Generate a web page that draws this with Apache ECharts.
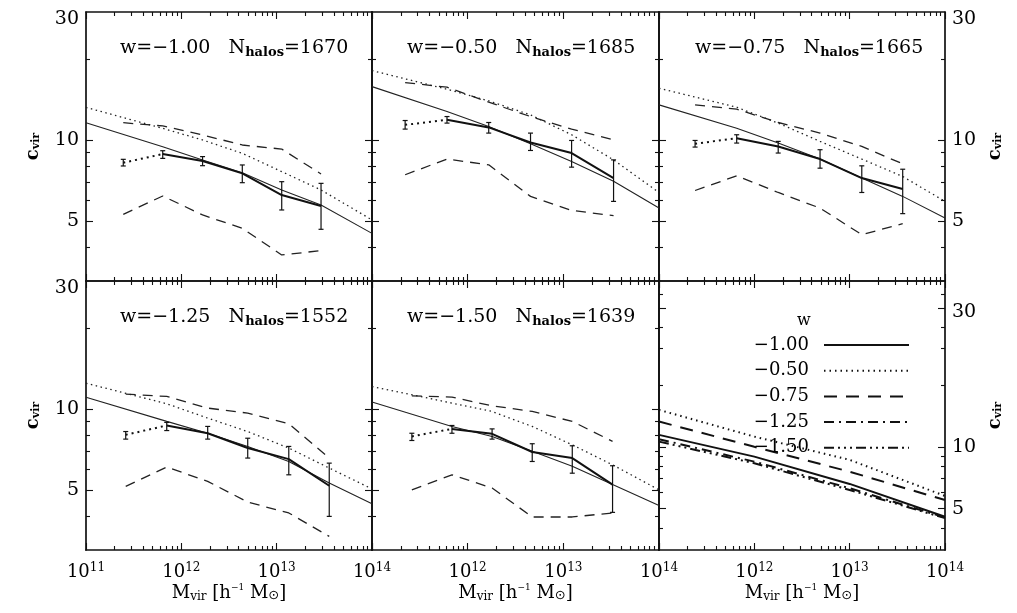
<!DOCTYPE html>
<html><head><meta charset="utf-8">
<script src="https://cdn.jsdelivr.net/npm/echarts@6/dist/echarts.min.js"></script>
<style>html,body{margin:0;padding:0;background:#fff;}#c{width:1017px;height:613px;}</style>
</head><body><div id="c"></div>
<script>
// ---------------- data ----------------
const panelW = ['−1.00', '−0.50', '−0.75', '−1.25', '−1.50'];
const panelN = [1670, 1685, 1665, 1552, 1639];

// mass bins (h^-1 Msun) per panel
const binMass = [
  [2.46e11, 6.38e11, 1.67e12, 4.36e12, 1.13e13, 2.92e13],
  [2.22e11, 6.08e11, 1.66e12, 4.54e12, 1.22e13, 3.35e13],
  [2.39e11, 6.53e11, 1.78e12, 4.89e12, 1.34e13, 3.60e13],
  [2.61e11, 7.03e11, 1.89e12, 4.97e12, 1.34e13, 3.56e13],
  [2.61e11, 6.85e11, 1.80e12, 4.73e12, 1.24e13, 3.27e13]
];
// model curves sampled at masses
const curveMass = [
  [1e11, 6.38e11, 1.67e12, 4.36e12, 1.13e13, 2.92e13, 1e14],
  [1e11, 6.08e11, 1.66e12, 4.54e12, 1.22e13, 3.35e13, 1e14],
  [1e11, 6.53e11, 1.78e12, 4.89e12, 1.34e13, 3.60e13, 1e14],
  [1e11, 7.03e11, 1.89e12, 4.97e12, 1.34e13, 3.56e13, 1e14],
  [1e11, 6.85e11, 1.80e12, 4.73e12, 1.24e13, 3.27e13, 1e14]
];
const fitSolid = [
  [11.63, 9.47, 8.45, 7.58, 6.54, 5.75, 4.51],
  [15.84, 12.80, 11.26, 9.71, 8.34, 7.04, 5.60],
  [13.55, 11.10, 9.77, 8.52, 7.24, 6.19, 5.14],
  [11.10, 9.02, 8.15, 7.28, 6.40, 5.32, 4.46],
  [10.64, 8.64, 7.93, 6.98, 6.14, 5.25, 4.39]
];
const fitDotted = [
  [13.26, 11.08, 10.03, 8.95, 7.65, 6.54, 5.06],
  [18.17, 15.49, 14.02, 12.44, 10.49, 8.46, 6.40],
  [15.62, 13.28, 11.59, 9.91, 8.52, 7.34, 5.93],
  [12.51, 10.49, 9.28, 8.27, 7.18, 6.05, 5.06],
  [12.16, 10.55, 9.82, 8.64, 7.38, 6.22, 5.02]
];
const upperDash = [
  [11.63, 11.31, 10.47, 9.61, 9.28, 7.50],
  [16.40, 15.76, 13.86, 12.26, 11.01, 10.05],
  [13.55, 13.06, 11.65, 10.64, 9.49, 8.18],
  [11.39, 11.17, 10.11, 9.68, 8.84, 6.59],
  [11.23, 11.10, 10.31, 9.82, 9.02, 7.60]
];
const lowerDash = [
  [5.31, 6.21, 5.28, 4.71, 3.75, 3.89],
  [7.45, 8.52, 8.11, 6.19, 5.49, 5.25],
  [6.51, 7.38, 6.40, 5.60, 4.46, 4.90],
  [5.17, 6.10, 5.40, 4.52, 4.12, 3.37],
  [5.02, 5.71, 5.10, 3.98, 3.98, 4.12]
];
const medianC = [
  [8.26, 8.89, 8.38, 7.54, 6.26, 5.70],
  [11.42, 11.92, 11.17, 9.82, 8.97, 7.24],
  [9.71, 10.19, 9.49, 8.52, 7.24, 6.59],
  [8.04, 8.71, 8.15, 7.18, 6.53, 5.20],
  [7.93, 8.46, 8.11, 6.94, 6.59, 5.25]
];
const errLo = [
  [8.03, 8.57, 8.05, 6.96, 5.51, 4.67],
  [11.01, 11.59, 10.64, 9.17, 7.95, 5.93],
  [9.44, 9.77, 8.97, 7.88, 6.40, 5.34],
  [7.75, 8.34, 7.75, 6.59, 5.71, 4.00],
  [7.66, 8.15, 7.75, 6.40, 5.79, 4.14]
];
const errHi = [
  [8.50, 9.15, 8.70, 8.10, 7.02, 6.92],
  [11.85, 12.26, 11.65, 10.64, 9.99, 8.46],
  [9.99, 10.49, 9.91, 9.23, 8.04, 7.81],
  [8.27, 8.94, 8.64, 7.81, 7.28, 6.31],
  [8.15, 8.71, 8.46, 7.45, 7.32, 6.17]
];

// last panel: model comparison
const modelNames = ['−1.00', '−0.50', '−0.75', '−1.25', '−1.50'];
const modelMass = [1e11, 1e12, 1e13, 1e14];
const modelC = [
  [11.43, 8.96, 6.60, 4.57],
  [15.12, 11.21, 8.64, 5.77],
  [13.27, 10.00, 7.57, 5.51],
  [10.89, 8.47, 6.29, 4.53],
  [10.60, 8.32, 6.17, 4.50]
];

// ticks
const xMajorTicks = [1e11, 1e12, 1e13, 1e14];
const xMinorTicks = [2e11,3e11,4e11,5e11,6e11,7e11,8e11,9e11,
                     2e12,3e12,4e12,5e12,6e12,7e12,8e12,9e12,
                     2e13,3e13,4e13,5e13,6e13,7e13,8e13,9e13];
const yMajorTicks = [5, 10];
const yMinorTicks = [4, 6, 7, 8, 9, 20];
const yLabelValues = [5, 10, 30];
const y6MajorTicks = [5, 10, 47];
const y6MinorTicks = [4, 6, 7, 8, 9, 20, 30, 38, 55];
const y6LabelValues = [5, 10, 47];
const y6LabelText = ['5', '10', '30'];

// ---------------- styling / layout ----------------
const SERIF = "'DejaVu Serif','Liberation Serif',serif";
const INK = '#111';
const colL = [86, 372, 659], colW = [286, 287, 286];
const rowT = [12, 281], rowH = 269;
const annPos = [[120, 38], [407, 38], [695, 38], [120, 307], [407, 307]];

const grids = [], xAxes = [], yAxes = [], series = [], titles = [];

function mkX(g, pos, ticks, len, line, labelVals, withName) {
  return {
    type: 'log', logBase: 10, gridIndex: g, position: pos, min: 1e11, max: 1e14,
    axisLine: {show: line, onZero: false, lineStyle: {color: INK, width: 1.7}},
    axisTick: {show: true, inside: true, length: len, customValues: ticks, lineStyle: {color: INK, width: 1.1}},
    axisLabel: labelVals ? {
      show: true, customValues: labelVals, margin: 12,
      formatter: v => '{b|10}{s|' + Math.round(Math.log10(v)) + '}',
      rich: {
        b: {fontFamily: SERIF, fontSize: 18, color: '#000'},
        s: {fontFamily: SERIF, fontSize: 12, color: '#000', padding: [0, 0, 9, 0]}
      }
    } : {show: false},
    splitLine: {show: false}, minorTick: {show: false}, minorSplitLine: {show: false},
    name: withName ? '{m|M}{s|vir}{m| [h}{u|−1}{m| M}{o|⊙}{m|]}' : '',
    nameLocation: 'middle', nameGap: 33,
    nameTextStyle: {rich: {
      m: {fontFamily: SERIF, fontSize: 18, color: '#000'},
      s: {fontFamily: SERIF, fontSize: 12, color: '#000', padding: [8, 0, 0, 0]},
      u: {fontFamily: SERIF, fontSize: 9, color: '#000', padding: [0, 0, 10, 0]},
      o: {fontFamily: "'DejaVu Sans',sans-serif", fontSize: 13, color: '#000', padding: [6, 0, 0, 0]}
    }}
  };
}
function mkY(g, pos, ticks, len, line, yMin, yMax, labelVals, labelText, withName, nameGap) {
  return {
    type: 'log', logBase: 10, gridIndex: g, position: pos, min: yMin, max: yMax,
    axisLine: {show: line, onZero: false, lineStyle: {color: INK, width: 1.7}},
    axisTick: {show: true, inside: true, length: len, customValues: ticks, lineStyle: {color: INK, width: 1.1}},
    axisLabel: labelVals ? {
      show: true, customValues: labelVals, margin: 7,
      formatter: v => {
        const i = labelVals.findIndex(t => Math.abs(t - v) < 1e-6 * t);
        const txt = labelText[i];
        if (txt === '30') return (g === 5 ? '{t2|' : '{t|') + txt + '}';
        return '{n|' + txt + '}';
      },
      rich: {
        n: {fontFamily: SERIF, fontSize: 19, color: '#000'},
        t: {fontFamily: SERIF, fontSize: 19, color: '#000', padding: [14, 0, 0, 0]},
        t2: {fontFamily: SERIF, fontSize: 19, color: '#000', padding: [6, 0, 0, 0]}
      }
    } : {show: false},
    splitLine: {show: false}, minorTick: {show: false}, minorSplitLine: {show: false},
    name: withName ? '{c|c}{v|vir}' : '',
    nameLocation: 'middle', nameRotate: 90, nameGap: nameGap || 40,
    nameTextStyle: {rich: {
      c: {fontFamily: SERIF, fontSize: 18, fontWeight: 'bold', color: '#000'},
      v: {fontFamily: SERIF, fontSize: 11, fontWeight: 'bold', color: '#000', padding: [7, 0, 0, 0]}
    }}
  };
}

for (let g = 0; g < 6; g++) {
  const row = g < 3 ? 0 : 1, col = g % 3;
  grids.push({left: colL[col], top: rowT[row], width: colW[col], height: rowH, show: false,
              containLabel: false, outerBoundsMode: 'none'});
  const bottomRow = row === 1;
  const xLab = bottomRow ? (col === 0 ? xMajorTicks : xMajorTicks.slice(1)) : null;
  xAxes.push(mkX(g, 'bottom', xMajorTicks, 7, true, xLab, bottomRow));
  xAxes.push(mkX(g, 'bottom', xMinorTicks, 4, false, null, false));
  xAxes.push(mkX(g, 'top', xMajorTicks, 7, true, null, false));
  xAxes.push(mkX(g, 'top', xMinorTicks, 4, false, null, false));
  const last = g === 5;
  const yMin = last ? 3.15 : 3, yMax = last ? 64 : 30;
  const maj = last ? y6MajorTicks : yMajorTicks, mnr = last ? y6MinorTicks : yMinorTicks;
  const leftLab = col === 0;
  const rightLab = col === 2;
  const lv = last ? y6LabelValues : yLabelValues;
  const lt = last ? y6LabelText : yLabelValues.map(String);
  yAxes.push(mkY(g, 'left', maj, 7, true, yMin, yMax, leftLab ? lv : null, lt, leftLab, 44));
  yAxes.push(mkY(g, 'left', mnr, 4, false, yMin, yMax, null, null, false));
  yAxes.push(mkY(g, 'right', maj, 7, true, yMin, yMax, rightLab ? lv : null, lt, rightLab, 41));
  yAxes.push(mkY(g, 'right', mnr, 4, false, yMin, yMax, null, null, false));
}

function errRender(params, api) {
  const x = api.value(0), lo = api.value(1), hi = api.value(2);
  const a = api.coord([x, lo]), b = api.coord([x, hi]);
  const c = 2.5, st = {stroke: INK, lineWidth: 1.2};
  return {type: 'group', children: [
    {type: 'line', shape: {x1: a[0], y1: a[1], x2: b[0], y2: b[1]}, style: st},
    {type: 'line', shape: {x1: a[0] - c, y1: a[1], x2: a[0] + c, y2: a[1]}, style: st},
    {type: 'line', shape: {x1: b[0] - c, y1: b[1], x2: b[0] + c, y2: b[1]}, style: st}
  ]};
}

const panelGrid = [0, 1, 2, 3, 4];
for (let p = 0; p < 5; p++) {
  const ax = {xAxisIndex: 4 * panelGrid[p], yAxisIndex: 4 * panelGrid[p]};
  const base = {type: 'line', symbol: 'none', silent: true, animation: false};
  series.push(Object.assign({}, base, ax, {name: 'fit' + p,
    data: curveMass[p].map((m, i) => [m, fitSolid[p][i]]),
    lineStyle: {color: '#222', width: 1.1}}));
  series.push(Object.assign({}, base, ax, {name: 'dot' + p,
    data: curveMass[p].map((m, i) => [m, fitDotted[p][i]]),
    lineStyle: {color: '#222', width: 1.3, type: [1.5, 3.5]}}));
  series.push(Object.assign({}, base, ax, {name: 'up' + p,
    data: binMass[p].map((m, i) => [m, upperDash[p][i]]),
    lineStyle: {color: '#222', width: 1.3, type: [10, 7]}}));
  series.push(Object.assign({}, base, ax, {name: 'lo' + p,
    data: binMass[p].map((m, i) => [m, lowerDash[p][i]]),
    lineStyle: {color: '#222', width: 1.3, type: [10, 7]}}));
  series.push(Object.assign({}, base, ax, {name: 'md0' + p,
    data: binMass[p].slice(0, 2).map((m, i) => [m, medianC[p][i]]),
    lineStyle: {color: INK, width: 2, type: [2, 4]}}));
  series.push(Object.assign({}, base, ax, {name: 'md' + p,
    data: binMass[p].slice(1).map((m, i) => [m, medianC[p][i + 1]]),
    lineStyle: {color: INK, width: 2}, z: 4}));
  series.push(Object.assign({}, ax, {type: 'custom', name: 'err' + p, silent: true, animation: false,
    renderItem: errRender, encode: {x: 0, y: [1, 2]}, z: 5,
    data: binMass[p].map((m, i) => [m, errLo[p][i], errHi[p][i]])}));
  titles.push({
    text: '{a|w=' + panelW[p] + '   N}{s|halos}{a|=' + panelN[p] + '}',
    left: annPos[p][0], top: annPos[p][1], padding: 0,
    textStyle: {fontWeight: 'normal', rich: {
      a: {fontFamily: SERIF, fontSize: 19, fontWeight: 'normal', color: '#000'},
      s: {fontFamily: SERIF, fontSize: 13, fontWeight: 'bold', color: '#000', padding: [8, 0, 0, 0]}
    }}
  });
}

const modelDash = ['solid', [1.5, 4], [13, 9], [10, 5, 2, 5], [10, 4, 2, 4, 2, 4, 2, 4]];
for (let k = 0; k < 5; k++) {
  series.push({type: 'line', name: modelNames[k], xAxisIndex: 20, yAxisIndex: 20,
    symbol: 'none', silent: true, animation: false,
    itemStyle: {color: INK},
    data: modelMass.map((m, i) => [m, modelC[k][i]]),
    lineStyle: {color: INK, width: 2, type: modelDash[k]}});
}

const option = {
  backgroundColor: '#fff',
  animation: false,
  grid: grids, xAxis: xAxes, yAxis: yAxes, series: series,
  title: titles.concat([{
    text: 'w', left: 797, top: 313, padding: 0,
    textStyle: {fontFamily: SERIF, fontSize: 16, color: '#000', fontWeight: 'normal'}
  }]),
  legend: {
    data: modelNames, orient: 'vertical', align: 'right', right: 107, top: 336,
    itemWidth: 85, itemHeight: 14, itemGap: 7.7, padding: 0, selectedMode: false,
    itemStyle: {opacity: 0},
    textStyle: {fontFamily: SERIF, fontSize: 18, color: '#000', lineHeight: 14, padding: [0, 10, 0, 0]}
  }
};
const chart = echarts.init(document.getElementById('c'), null, {renderer: 'canvas'});
chart.setOption(option);
</script></body></html>
